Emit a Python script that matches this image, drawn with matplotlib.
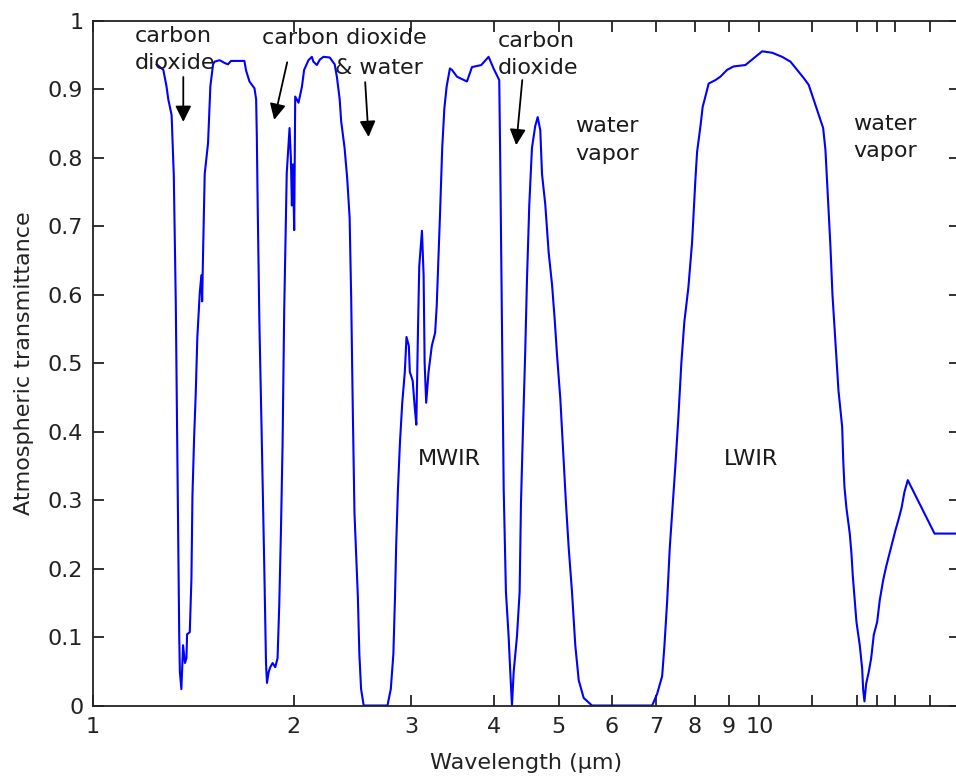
import matplotlib
matplotlib.use('Agg')
import matplotlib.pyplot as plt
from matplotlib.ticker import FixedLocator, FixedFormatter, NullLocator

# fonts: DejaVu Sans is closest in width to the original screen font
plt.rcParams['font.family'] = ['DejaVu Sans']
plt.rcParams['font.size'] = 16

# wavelength (um) and atmospheric transmittance
wavelength = [
    1.246, 1.275, 1.289, 1.297, 1.312, 1.316, 1.322, 1.331, 1.342, 1.347,
    1.350, 1.357, 1.365, 1.374, 1.381, 1.384, 1.397, 1.405, 1.410, 1.418,
    1.426, 1.434, 1.446, 1.454, 1.458, 1.463, 1.471, 1.488, 1.500, 1.514,
    1.522, 1.549, 1.576, 1.594, 1.611, 1.687, 1.697, 1.717, 1.747, 1.757,
    1.761, 1.767, 1.777, 1.791, 1.807, 1.818, 1.824, 1.835, 1.845, 1.860,
    1.877, 1.892, 1.903, 1.914, 1.925, 1.936, 1.953, 1.972, 1.981, 1.988,
    1.995, 2.004, 2.011, 2.034, 2.058, 2.074, 2.105, 2.130, 2.141, 2.167,
    2.190, 2.217, 2.266, 2.305, 2.323, 2.345, 2.357, 2.385, 2.407, 2.427,
    2.440, 2.454, 2.468, 2.497, 2.510, 2.525, 2.548, 2.766, 2.798, 2.823,
    2.839, 2.851, 2.868, 2.888, 2.911, 2.937, 2.954, 2.978, 2.988, 3.018,
    3.039, 3.056, 3.074, 3.087, 3.116, 3.134, 3.145, 3.162, 3.188, 3.224,
    3.261, 3.279, 3.317, 3.342, 3.367, 3.394, 3.432, 3.456, 3.517, 3.640,
    3.704, 3.825, 3.923, 3.991, 4.070, 4.084, 4.108, 4.133, 4.165, 4.204,
    4.228, 4.253, 4.278, 4.327, 4.367, 4.387, 4.418, 4.453, 4.479, 4.515,
    4.557, 4.609, 4.648, 4.690, 4.718, 4.772, 4.828, 4.884, 4.929, 4.969,
    5.026, 5.085, 5.126, 5.174, 5.233, 5.293, 5.356, 5.449, 5.608, 6.903,
    7.023, 7.146, 7.203, 7.271, 7.336, 7.413, 7.482, 7.557, 7.636, 7.715,
    7.823, 7.923, 8.015, 8.062, 8.155, 8.220, 8.297, 8.392, 8.589, 8.739,
    8.944, 9.151, 9.528, 9.805, 10.094, 10.449, 10.816, 11.131, 11.392, 11.655,
    11.858, 12.065, 12.275, 12.464, 12.563, 12.637, 12.707, 12.782, 12.871, 13.005,
    13.141, 13.310, 13.356, 13.416, 13.509, 13.664, 13.744, 13.806, 13.902, 13.984,
    14.144, 14.262, 14.312, 14.376, 14.461, 14.591, 14.713, 14.846, 15.021, 15.157,
    15.336, 15.496, 15.674, 15.820, 16.002, 16.186, 16.337, 16.508, 16.697, 18.315,
    20.0,
]
transmittance = [
    0.936, 0.928, 0.904, 0.885, 0.862, 0.827, 0.773, 0.589, 0.242, 0.101,
    0.049, 0.024, 0.088, 0.062, 0.069, 0.104, 0.107, 0.185, 0.307, 0.390,
    0.455, 0.538, 0.602, 0.628, 0.590, 0.666, 0.776, 0.821, 0.904, 0.936,
    0.940, 0.942, 0.938, 0.936, 0.941, 0.941, 0.927, 0.911, 0.901, 0.885,
    0.834, 0.721, 0.557, 0.396, 0.204, 0.062, 0.033, 0.049, 0.056, 0.062,
    0.056, 0.069, 0.146, 0.252, 0.380, 0.577, 0.777, 0.843, 0.800, 0.730,
    0.790, 0.694, 0.889, 0.880, 0.903, 0.928, 0.942, 0.947, 0.940, 0.935,
    0.943, 0.947, 0.946, 0.936, 0.917, 0.885, 0.853, 0.814, 0.769, 0.712,
    0.596, 0.428, 0.281, 0.159, 0.075, 0.024, 0.000, 0.000, 0.024, 0.075,
    0.159, 0.236, 0.316, 0.384, 0.442, 0.487, 0.538, 0.525, 0.487, 0.474,
    0.436, 0.410, 0.551, 0.641, 0.693, 0.628, 0.500, 0.442, 0.487, 0.525,
    0.544, 0.583, 0.718, 0.814, 0.872, 0.904, 0.930, 0.928, 0.918, 0.911,
    0.932, 0.935, 0.947, 0.930, 0.913, 0.794, 0.557, 0.316, 0.166, 0.101,
    0.049, 0.000, 0.049, 0.101, 0.166, 0.294, 0.404, 0.519, 0.621, 0.731,
    0.814, 0.846, 0.859, 0.840, 0.776, 0.731, 0.661, 0.615, 0.564, 0.512,
    0.448, 0.358, 0.294, 0.230, 0.166, 0.088, 0.037, 0.011, 0.000, 0.000,
    0.017, 0.043, 0.088, 0.153, 0.230, 0.294, 0.352, 0.420, 0.500, 0.560,
    0.610, 0.675, 0.767, 0.808, 0.845, 0.874, 0.889, 0.908, 0.913, 0.918,
    0.928, 0.933, 0.935, 0.945, 0.955, 0.953, 0.947, 0.940, 0.928, 0.916,
    0.906, 0.884, 0.862, 0.843, 0.811, 0.762, 0.714, 0.670, 0.600, 0.530,
    0.460, 0.407, 0.361, 0.319, 0.288, 0.251, 0.222, 0.190, 0.154, 0.122,
    0.088, 0.054, 0.023, 0.006, 0.032, 0.049, 0.069, 0.103, 0.122, 0.154,
    0.183, 0.203, 0.222, 0.237, 0.256, 0.273, 0.288, 0.312, 0.329, 0.251,
    0.251,
]

# axis ticks
x_ticks = [1, 2, 3, 4, 5, 6, 7, 8, 9, 10, 12, 14, 15, 16, 18]
x_tick_labels = ['1', '2', '3', '4', '5', '6', '7', '8', '9', '10', '', '', '', '', '']
y_ticks = [0, 0.1, 0.2, 0.3, 0.4, 0.5, 0.6, 0.7, 0.8, 0.9, 1]
y_tick_labels = ['0', '0.1', '0.2', '0.3', '0.4', '0.5', '0.6', '0.7', '0.8', '0.9', '1']

# band labels: text and the left anchor (wavelength, transmittance)
label_texts = ['carbon\ndioxide', 'carbon dioxide', '& water', 'carbon\ndioxide',
               'water\nvapor', 'water\nvapor', 'MWIR', 'LWIR']
label_x = [1.156, 1.794, 2.309, 4.043, 5.293, 13.84, 3.076, 8.83]
label_y = [0.958, 0.974, 0.931, 0.950, 0.8255, 0.829, 0.360, 0.360]

# arrows from label down to the absorption band
arrow_tail_x = [1.366, 1.956, 2.561, 4.407]
arrow_tail_y = [0.9175, 0.939, 0.910, 0.913]
arrow_head_x = [1.366, 1.870, 2.591, 4.316]
arrow_head_y = [0.852, 0.855, 0.830, 0.818]


def plot_transmittance():
    """
    draw the atmospheric transmittance curve
    """
    fig = plt.figure(figsize=(9.56, 7.77), dpi=100)
    ax = fig.add_axes([0.0973, 0.0920, 0.9069, 0.8816])

    ax.plot(wavelength, transmittance, color='#0000ff', linewidth=1.5)

    ax.set_xscale('log')
    ax.set_xlim(1, 20)
    ax.set_ylim(0, 1)

    ax.xaxis.set_major_locator(FixedLocator(x_ticks))
    ax.xaxis.set_major_formatter(FixedFormatter(x_tick_labels))
    ax.xaxis.set_minor_locator(NullLocator())
    ax.yaxis.set_major_locator(FixedLocator(y_ticks))
    ax.yaxis.set_major_formatter(FixedFormatter(y_tick_labels))

    ax.tick_params(direction='in', length=8, width=1.3, top=True, right=True,
                   colors='#222222', labelcolor='#222222')
    ax.tick_params(axis='x', pad=8.5)
    ax.tick_params(axis='y', pad=7)
    for spine in ax.spines.values():
        spine.set_linewidth(1.3)
        spine.set_color('#222222')

    ax.set_xlabel('Wavelength (µm)', labelpad=11, color='#222222')
    ax.set_ylabel('Atmospheric transmittance', labelpad=10, color='#222222')

    # text labels
    for s, x, y in zip(label_texts, label_x, label_y):
        ax.text(x, y, s, ha='left', va='center', linespacing=1.45, color='#1a1a1a')

    # arrows
    for tx, ty, hx, hy in zip(arrow_tail_x, arrow_tail_y, arrow_head_x, arrow_head_y):
        ax.annotate('', xy=(hx, hy), xytext=(tx, ty),
                    arrowprops=dict(arrowstyle='-|>', color='k', lw=1.3,
                                    mutation_scale=24, shrinkA=0, shrinkB=0))

    fig.savefig('out.png', dpi=100)


def main():
    plot_transmittance()


if __name__ == "__main__":
    main()
